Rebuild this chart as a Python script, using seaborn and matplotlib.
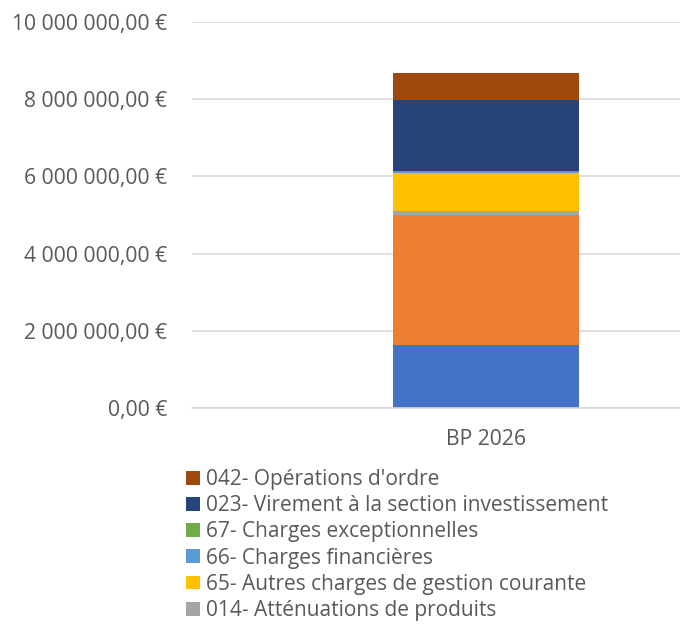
import matplotlib
matplotlib.use("Agg")
import matplotlib.pyplot as plt
from matplotlib.patches import Patch
from matplotlib.ticker import FuncFormatter
import pandas as pd
import seaborn as sns

# stacked series, bottom to top
categories = ["BP 2026"]
series_names = [
    "011- Charges à caractère général",
    "012- Charges de personnel",
    "014- Atténuations de produits",
    "65- Autres charges de gestion courante",
    "66- Charges financières",
    "67- Charges exceptionnelles",
    "023- Virement à la section investissement",
    "042- Opérations d'ordre",
]
series_values = [1630000, 3365000, 105000, 1000000, 45000, 5000, 1820000, 720000]
series_colors = ["#4472C4", "#ED7D31", "#A5A5A5", "#FFC000",
                 "#5B9BD5", "#70AD47", "#264478", "#9E480E"]
legend_count = 6  # only the top six entries are visible

sns.set_theme(style="white")
plt.rcParams["font.family"] = ["Open Sans", "DejaVu Sans"]

fig = plt.figure(figsize=(6.8, 6.28), dpi=100)
W, H = 680, 628
ax = fig.add_axes([192 / W, (H - 408) / H, (680 - 192) / W, (408 - 22) / H])

# cumulative totals, drawn from top down so lower segments cover upper ones
cum = pd.Series(series_values).cumsum().tolist()
for i in range(len(series_names) - 1, -1, -1):
    df = pd.DataFrame({"cat": categories, "val": [cum[i]]})
    sns.barplot(data=df, x="cat", y="val", color=series_colors[i],
                saturation=1, width=0.4, ax=ax, linewidth=0)

ax.set_xlim(-0.630, 0.416)
ax.set_ylim(0, 10_000_000)
ax.set_yticks(range(0, 10_000_001, 2_000_000))


def euro(v, _):
    return f"{v:,.2f}".replace(",", " ").replace(".", ",") + " €"


ax.yaxis.set_major_formatter(FuncFormatter(euro))
ax.yaxis.grid(True, color="#D9D9D9", linewidth=1.2)
ax.set_axisbelow(True)
for s in ["top", "right", "left"]:
    ax.spines[s].set_visible(False)
ax.spines["bottom"].set_color("#D9D9D9")
ax.spines["bottom"].set_linewidth(1.2)
ax.tick_params(axis="y", length=0, pad=18, labelsize=15.2, labelcolor="#595959")
ax.tick_params(axis="x", length=0, pad=15, labelsize=15.2, labelcolor="#595959")
ax.set_xlabel("")
ax.set_ylabel("")

handles = [Patch(facecolor=series_colors[i], edgecolor="none")
           for i in range(len(series_names) - 1, len(series_names) - 1 - legend_count, -1)]
labels = [series_names[i]
          for i in range(len(series_names) - 1, len(series_names) - 1 - legend_count, -1)]
fig.legend(handles, labels, loc="upper left", bbox_to_anchor=(186 / W, 1 - 469 / H),
           frameon=False, fontsize=15, labelcolor="#595959",
           handlelength=0.65, handleheight=0.65, handletextpad=0.3,
           labelspacing=0.25, borderpad=0, borderaxespad=0)

fig.savefig("out.png", dpi=100)
